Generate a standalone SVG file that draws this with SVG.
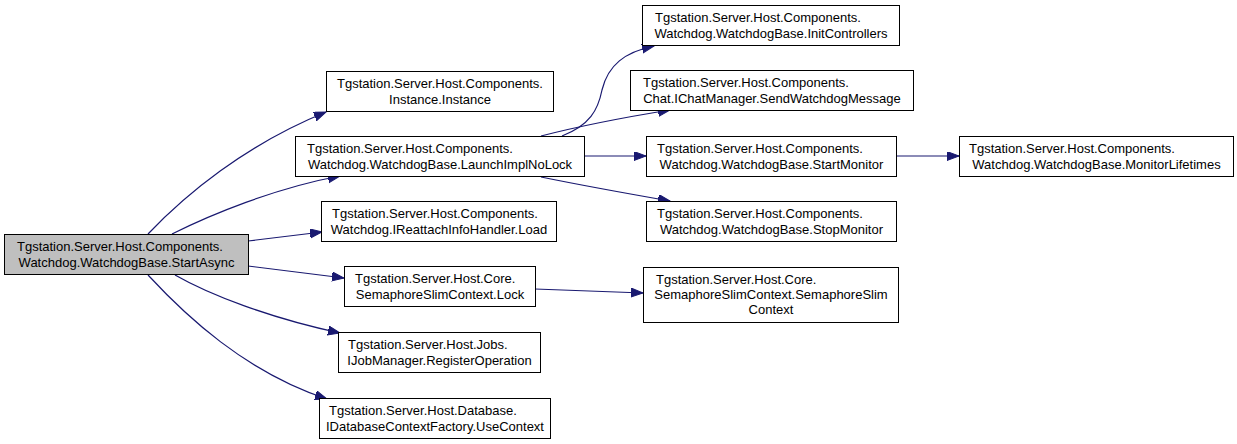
<svg xmlns="http://www.w3.org/2000/svg" width="1237" height="444" viewBox="0 0 1237 444">
<style>
.n rect{fill:#fff;stroke:#000;stroke-width:1}
.n.hl rect{fill:#bfbfbf}
.n text{font-family:"Liberation Sans",Arial,sans-serif;font-size:13px;fill:#000}
.e path{fill:none;stroke:#191970;stroke-width:1.2}
</style>
<defs>
<marker id="a" markerUnits="userSpaceOnUse" markerWidth="14" markerHeight="10" refX="12" refY="4.5" orient="auto">
<path d="M0,0 L12,4.5 L0,9 z" fill="#191970" stroke="#191970" stroke-width="1"/>
</marker>
</defs>
<g id="edges" class="e">
<path d="M148,234 C185,195 245,145 326,112" marker-end="url(#a)"/>
<path d="M172,234 C210,215 275,188 340,176" marker-end="url(#a)"/>
<path d="M248,241 L322,232" marker-end="url(#a)"/>
<path d="M248,266 L344,278" marker-end="url(#a)"/>
<path d="M175,275 C210,295 270,318 340,333" marker-end="url(#a)"/>
<path d="M148,275 C185,315 245,372 327,399" marker-end="url(#a)"/>
<path d="M562,136 C590,125 598,110 602,90 C608,65 625,52 654,46" marker-end="url(#a)"/>
<path d="M541,136 C580,126 620,118 670,110" marker-end="url(#a)"/>
<path d="M584,156 L646,156" marker-end="url(#a)"/>
<path d="M541,177 C590,187 630,194 670,201" marker-end="url(#a)"/>
<path d="M897,156 L959,156" marker-end="url(#a)"/>
<path d="M535,289 L643,293" marker-end="url(#a)"/>
</g>
<g id="n_startasync" class="n hl">
<rect x="4.5" y="234.5" width="244" height="40"/>
<text x="17" y="251">Tgstation.Server.Host.Components.</text>
<text x="126.5" y="267" text-anchor="middle">Watchdog.WatchdogBase.StartAsync</text>
</g>
<g id="n_instance" class="n">
<rect x="326.5" y="71.5" width="227" height="40"/>
<text x="337" y="88">Tgstation.Server.Host.Components.</text>
<text x="440" y="104" text-anchor="middle">Instance.Instance</text>
</g>
<g id="n_launch" class="n">
<rect x="295.5" y="136.5" width="289" height="40"/>
<text x="307" y="153">Tgstation.Server.Host.Components.</text>
<text x="440" y="169" text-anchor="middle">Watchdog.WatchdogBase.LaunchImplNoLock</text>
</g>
<g id="n_load" class="n">
<rect x="321.5" y="201.5" width="235" height="40"/>
<text x="332" y="218">Tgstation.Server.Host.Components.</text>
<text x="439" y="234" text-anchor="middle">Watchdog.IReattachInfoHandler.Load</text>
</g>
<g id="n_lock" class="n">
<rect x="344.5" y="266.5" width="191" height="40"/>
<text x="355" y="283">Tgstation.Server.Host.Core.</text>
<text x="440" y="299" text-anchor="middle">SemaphoreSlimContext.Lock</text>
</g>
<g id="n_register" class="n">
<rect x="338.5" y="332.5" width="202" height="40"/>
<text x="348" y="349">Tgstation.Server.Host.Jobs.</text>
<text x="439.5" y="365" text-anchor="middle">IJobManager.RegisterOperation</text>
</g>
<g id="n_usecontext" class="n">
<rect x="319.5" y="398.5" width="231" height="40"/>
<text x="329" y="415">Tgstation.Server.Host.Database.</text>
<text x="435" y="431" text-anchor="middle">IDatabaseContextFactory.UseContext</text>
</g>
<g id="n_initcontrollers" class="n">
<rect x="642.5" y="5.5" width="257" height="40"/>
<text x="655" y="22">Tgstation.Server.Host.Components.</text>
<text x="771" y="38" text-anchor="middle">Watchdog.WatchdogBase.InitControllers</text>
</g>
<g id="n_sendmsg" class="n">
<rect x="630.5" y="70.5" width="283" height="40"/>
<text x="643" y="87">Tgstation.Server.Host.Components.</text>
<text x="772" y="103" text-anchor="middle">Chat.IChatManager.SendWatchdogMessage</text>
</g>
<g id="n_startmonitor" class="n">
<rect x="646.5" y="136.5" width="250" height="40"/>
<text x="657" y="153">Tgstation.Server.Host.Components.</text>
<text x="771.5" y="169" text-anchor="middle">Watchdog.WatchdogBase.StartMonitor</text>
</g>
<g id="n_stopmonitor" class="n">
<rect x="646.5" y="201.5" width="250" height="40"/>
<text x="657" y="218">Tgstation.Server.Host.Components.</text>
<text x="771.5" y="234" text-anchor="middle">Watchdog.WatchdogBase.StopMonitor</text>
</g>
<g id="n_monitorlifetimes" class="n">
<rect x="959.5" y="136.5" width="274" height="40"/>
<text x="969" y="153">Tgstation.Server.Host.Components.</text>
<text x="1096.5" y="169" text-anchor="middle">Watchdog.WatchdogBase.MonitorLifetimes</text>
</g>
<g id="n_semaphore" class="n">
<rect x="643.5" y="267.5" width="255" height="55"/>
<text x="656" y="284">Tgstation.Server.Host.Core.</text>
<text x="771" y="299" text-anchor="middle">SemaphoreSlimContext.SemaphoreSlim</text>
<text x="771" y="314" text-anchor="middle">Context</text>
</g>
</svg>
